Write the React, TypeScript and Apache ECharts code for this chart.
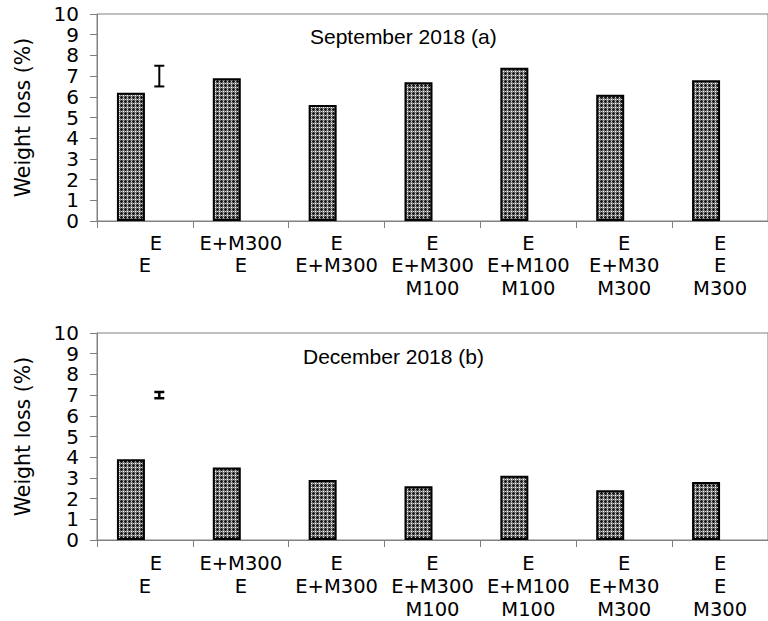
import React, { useEffect, useRef } from "react";
import * as echarts from "echarts";

const categoryLines: string[][] = [
  ["E", "E"],
  ["E+M300", "E"],
  ["E", "E+M300"],
  ["E", "E+M300", "M100"],
  ["E", "E+M100", "M100"],
  ["E", "E+M30", "M300"],
  ["E", "E", "M300"],
];
const categories = categoryLines.map((l) => l.join("\n"));
const septValues = [6.2, 6.9, 5.6, 6.7, 7.4, 6.1, 6.8];
const decValues = [3.9, 3.5, 2.9, 2.6, 3.1, 2.4, 2.8];
const septLsd = [6.5, 7.5];
const decLsd = [6.85, 7.15];
const yMin = 0;
const yMax = 10;
const yStep = 1;
const panelTitles = ["September 2018 (a)", "December 2018 (b)"];
const yTitle = "Weight loss (%)";

const GRAY = "#808080";
const LABEL_FONT = "DejaVu Sans";

function makePattern(): HTMLCanvasElement {
  const c = document.createElement("canvas");
  c.width = 4;
  c.height = 4;
  const ctx = c.getContext("2d")!;
  ctx.fillStyle = "#777777";
  ctx.fillRect(0, 0, 4, 4);
  ctx.fillStyle = "#1a1a1a";
  ctx.fillRect(1, 0, 1, 3);
  ctx.fillRect(0, 1, 3, 1);
  ctx.fillStyle = "#ffffff";
  ctx.fillRect(3, 3, 1, 1);
  ctx.fillStyle = "#d8d8d8";
  ctx.fillRect(3, 1, 1, 1);
  ctx.fillRect(1, 3, 1, 1);
  return c;
}

export default function App() {
  const ref = useRef<HTMLDivElement>(null);
  useEffect(() => {
    if (!ref.current) return;
    const chart = echarts.init(ref.current, null, { renderer: "svg" });
    const pattern = makePattern();
    const catSize = 19.5;

    const xAxisFor = (gi: number, margin: number, lh: number) => ({
      type: "category",
      gridIndex: gi,
      data: categories,
      axisLine: { show: true, lineStyle: { color: GRAY, width: 1 } },
      axisTick: { show: true, length: 7, lineStyle: { color: GRAY } },
      axisLabel: {
        interval: 0,
        margin,
        color: "#000",
        fontFamily: LABEL_FONT,
        fontSize: catSize,
        lineHeight: lh,
        formatter: (value: string, index: number) =>
          index === 0
            ? categoryLines[0].map((s, i) => (i === 0 ? `{p|${s}}` : `{c|${s}}`)).join("\n")
            : value,
        rich: {
          p: { padding: [0, 0, 0, 22], align: "center", fontSize: catSize, fontFamily: LABEL_FONT, lineHeight: lh, color: "#000" },
          c: { align: "center", fontSize: catSize, fontFamily: LABEL_FONT, lineHeight: lh, color: "#000" },
        },
      },
      splitLine: { show: false },
    });

    const yAxisFor = (gi: number) => ({
      type: "value",
      gridIndex: gi,
      min: yMin,
      max: yMax,
      interval: yStep,
      name: yTitle,
      nameLocation: "middle",
      nameGap: 63,
      nameTextStyle: { fontFamily: LABEL_FONT, fontSize: 20.5, color: "#000", lineHeight: 22 },
      axisLine: { show: true, lineStyle: { color: GRAY, width: 1 } },
      axisTick: { show: true, length: 7, lineStyle: { color: GRAY } },
      axisLabel: {
        fontFamily: LABEL_FONT,
        fontSize: 20,
        lineHeight: 19,
        color: "#000",
        margin: 18,
        showMinLabel: true,
        showMaxLabel: true,
        hideOverlap: false,
      },
      splitLine: { show: false },
    });

    const barSeries = (gi: number, values: number[]) => [
      {
        type: "bar",
        xAxisIndex: gi,
        yAxisIndex: gi,
        data: values,
        barWidth: 28,
        barGap: "0%",
        itemStyle: {
          color: { image: pattern, repeat: "repeat" },
          borderColor: "#000",
          borderWidth: 2,
        },
      },
      {
        type: "bar",
        xAxisIndex: gi,
        yAxisIndex: gi,
        data: values.map(() => null),
        barWidth: 28,
        barGap: "0%",
        silent: true,
      },
    ];

    const lsdSeries = (gi: number, lsd: number[], lw: number) => ({
      type: "custom",
      xAxisIndex: gi,
      yAxisIndex: gi,
      data: [[0, lsd[0], lsd[1]]],
      renderItem: (params: any, api: any) => {
        const c = api.value(0);
        const lo = api.coord([c, api.value(1)]);
        const hi = api.coord([c, api.value(2)]);
        const bw = api.size([1, 0])[0];
        const x = lo[0] + bw * 0.15;
        const half = 5;
        const style = { stroke: "#000", lineWidth: lw };
        return {
          type: "group",
          children: [
            { type: "line", shape: { x1: x, y1: lo[1], x2: x, y2: hi[1] }, style },
            { type: "line", shape: { x1: x - half, y1: hi[1], x2: x + half, y2: hi[1] }, style },
            { type: "line", shape: { x1: x - half, y1: lo[1], x2: x + half, y2: lo[1] }, style },
          ],
        };
      },
    });

    chart.setOption({
      animation: false,
      backgroundColor: "#fff",
      grid: [
        { left: 97, right: -7, top: 14, height: 207, show: true, borderColor: GRAY, borderWidth: 1 },
        { left: 97, right: -7, top: 333, height: 208.5, show: true, borderColor: GRAY, borderWidth: 1 },
      ],
      xAxis: [xAxisFor(0, 11, 22.5), xAxisFor(1, 12, 23)],
      yAxis: [yAxisFor(0), yAxisFor(1)],
      series: [
        ...barSeries(0, septValues),
        ...barSeries(1, decValues),
        lsdSeries(0, septLsd, 2),
        lsdSeries(1, decLsd, 2.5),
      ],
      graphic: [
        {
          type: "text",
          x: 310,
          y: 36.5,
          style: { text: panelTitles[0], fontSize: 21, fontFamily: "Liberation Sans", fill: "#000", verticalAlign: "middle" },
        },
        {
          type: "text",
          x: 303,
          y: 356,
          style: { text: panelTitles[1], fontSize: 21, fontFamily: "Liberation Sans", fill: "#000", verticalAlign: "middle" },
        },
      ],
    } as any);
    return () => chart.dispose();
  }, []);
  return <div ref={ref} style={{ position: "fixed", left: 0, top: 0, width: 768, height: 621 }} />;
}
